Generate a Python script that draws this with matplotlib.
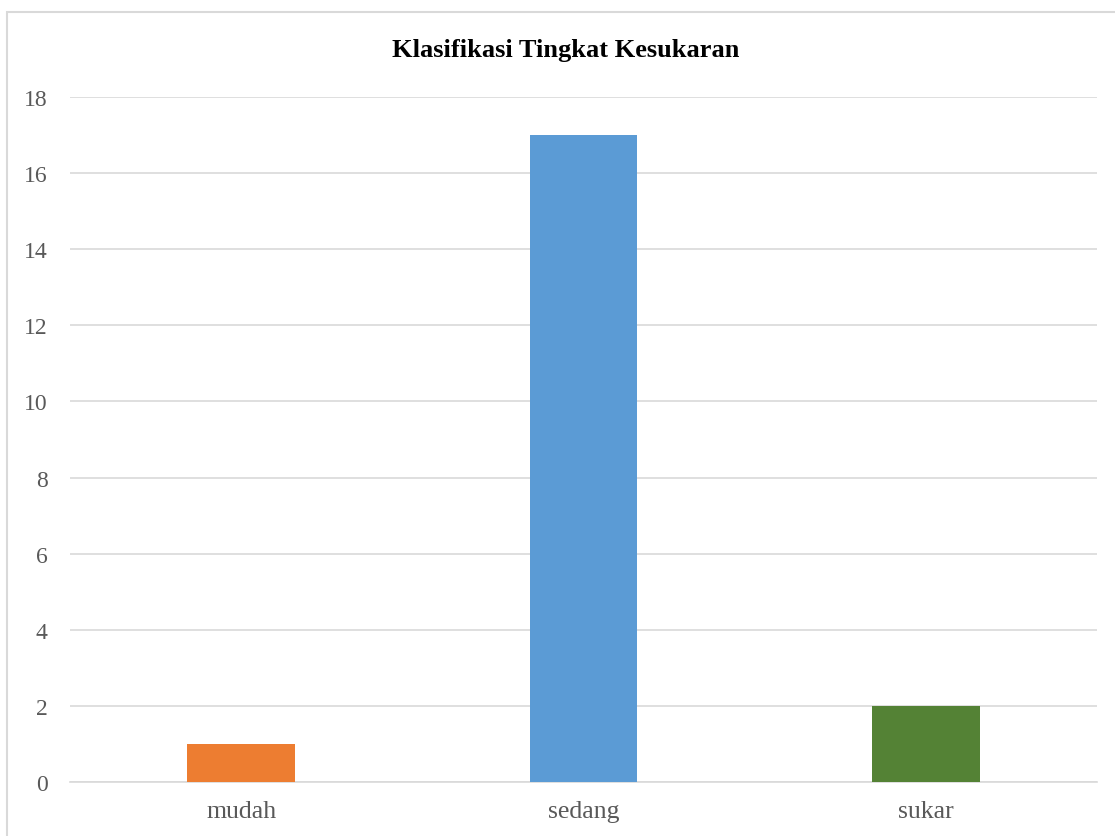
import matplotlib.pyplot as plt
from matplotlib.patches import Rectangle

categories = ['mudah', 'sedang', 'sukar']
values = [1, 17, 2]
colors = ['#ED7D31', '#5B9BD5', '#548235']
yticks = [0, 2, 4, 6, 8, 10, 12, 14, 16, 18]

plt.rcParams['font.family'] = ['Liberation Serif', 'DejaVu Serif']

fig = plt.figure(figsize=(11.15, 8.37), dpi=100)
ax = fig.add_axes([0.0628, 0.0645, 0.921, 0.8185])

# chart frame like a spreadsheet chart area (cut off at right and bottom)
fig.patches.append(Rectangle((7 / 1115, -0.1), 1.2, 1.1 - 13 / 837, transform=fig.transFigure,
                             fill=False, edgecolor='#D9D9D9', linewidth=1.5))

x = range(len(categories))
ax.bar(x, values, width=0.315, color=colors, zorder=3)

ax.set_xlim(-0.5, 2.5)
ax.set_ylim(0, 18)
ax.set_yticks(yticks)
ax.set_xticks(list(x))
ax.set_xticklabels(categories)
ax.grid(axis='y', color='#D9D9D9', linewidth=1.2, zorder=0)
for s in ['top', 'right', 'left']:
    ax.spines[s].set_visible(False)
ax.spines['bottom'].set_color('#D9D9D9')
ax.spines['bottom'].set_linewidth(1.2)
ax.tick_params(axis='both', length=0, labelcolor='#595959')
ax.tick_params(axis='y', pad=16, labelsize=17)
ax.tick_params(axis='x', pad=13, labelsize=18.5)

fig.text(0.5076, 0.94, 'Klasifikasi Tingkat Kesukaran', ha='center', va='center',
         fontsize=19, fontweight='bold', color='black')

fig.savefig('out.png', dpi=100)
